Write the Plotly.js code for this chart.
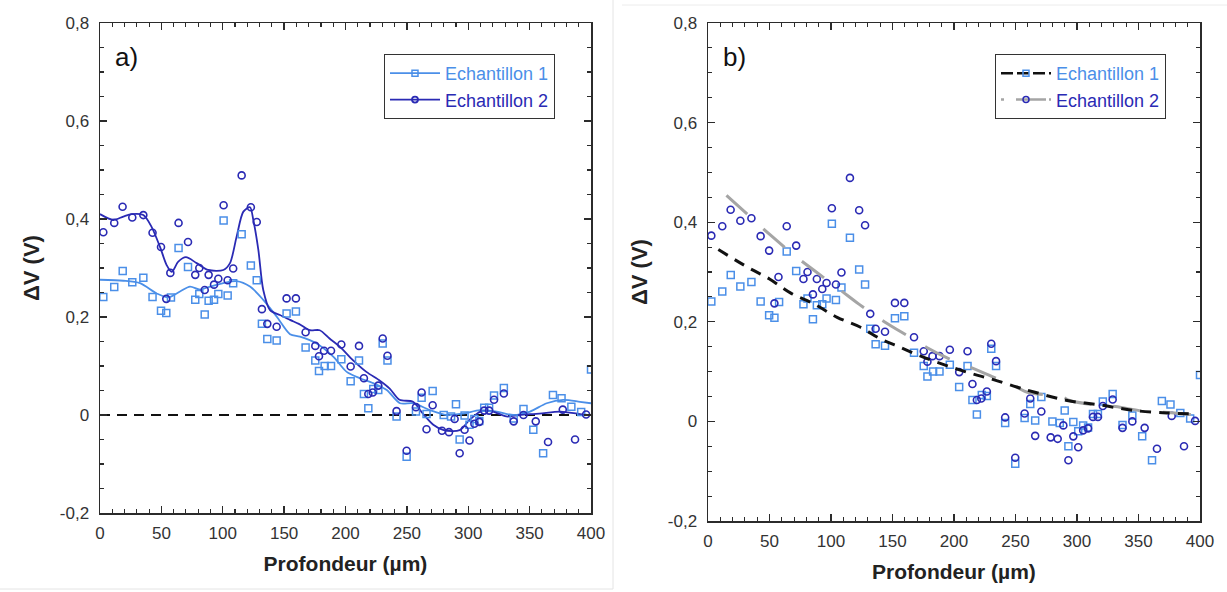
<!DOCTYPE html>
<html>
<head>
<meta charset="utf-8">
<script src="https://cdn.plot.ly/plotly-3.0.1.min.js"></script>
<style>html,body{margin:0;padding:0;background:#fff;}#chart{width:1227px;height:592px;}</style>
</head>
<body>
<div id="chart"></div>
<script>
// Echantillon 1 (squares)
const depth1 = [2.7,11.6,18.5,26.3,35.3,42.8,49.7,54,57.8,64,71.7,77.6,80.9,85.3,88.5,92.9,96.4,100.7,104,108.5,115.4,122.9,127.7,131.9,136.3,143.9,152,159.6,167.5,175.4,178.4,183,188.2,196.6,204.2,211,215,218.6,222.6,226.7,230.3,234.2,241.6,249.8,257.4,262,266,271,280,286,290,293,297,301,305,309,313,317,321,329,337,345,353,361,369,376,384,392,400];
const ech1 = [0.241,0.261,0.294,0.271,0.280,0.241,0.213,0.208,0.240,0.341,0.302,0.235,0.247,0.205,0.233,0.235,0.247,0.397,0.244,0.269,0.369,0.305,0.275,0.186,0.155,0.152,0.207,0.211,0.138,0.111,0.090,0.100,0.100,0.114,0.069,0.111,0.043,0.014,0.053,0.051,0.146,0.111,-0.003,-0.085,0.007,0.035,0.002,0.049,0.000,-0.003,0.022,-0.050,-0.001,-0.020,-0.008,-0.012,0.015,0.015,0.040,0.055,-0.007,0.012,-0.030,-0.078,0.041,0.034,0.017,0.006,0.093];
// Echantillon 2 (circles)
const depth2 = [2.7,11.6,18.4,26.3,35.3,42.8,49.7,54,57.3,64,71.7,77.6,80.9,85.3,88.5,92.9,96.4,100.7,104,108.5,115.4,122.9,127.7,131.9,136.3,143.9,152,159.6,167.5,175.4,178.4,182.5,188.2,196.6,204.2,211,215,218.6,222.2,226.7,230.3,234.2,241.6,249.8,257.4,262,266,271,278.6,284.3,288.9,293,297,301,305,309,313,317,321,329,337,345,355,365,377,387,396];
const ech2 = [0.373,0.392,0.425,0.403,0.408,0.372,0.343,0.237,0.290,0.392,0.353,0.286,0.300,0.255,0.286,0.266,0.278,0.428,0.275,0.299,0.489,0.424,0.394,0.216,0.186,0.180,0.238,0.238,0.169,0.141,0.120,0.131,0.131,0.144,0.099,0.141,0.075,0.043,0.046,0.060,0.156,0.121,0.008,-0.073,0.016,0.046,-0.029,0.020,-0.032,-0.035,-0.008,-0.078,-0.030,-0.052,-0.018,-0.014,0.009,0.009,0.031,0.044,-0.013,0.000,-0.013,-0.055,0.011,-0.050,0.001];
// Smoothed curves (panel a)
const smoothDepth1 = [0,19,32.6,46.2,55.6,65.2,73.3,81.5,89.6,100.5,111.3,122.2,133,143.9,154.8,162.9,176.5,190,201,211.8,222.6,233.6,244.4,255.2,268.8,282.4,296,309.6,323.2,336.7,350.3,363.9,377.4,391,400];
const smooth1 = [0.276,0.274,0.269,0.248,0.240,0.252,0.262,0.256,0.262,0.269,0.273,0.262,0.235,0.201,0.165,0.160,0.146,0.119,0.088,0.075,0.065,0.051,0.024,0.024,0.010,0.000,0.003,0.010,0.007,0.000,0.007,0.024,0.031,0.027,0.024];
const smoothDepth2 = [0,10.9,19,25.8,35.3,42,48.9,54.3,58.4,63.8,70,78.7,88.2,100.5,105.9,111.3,116.8,122.2,124.9,129,133,138.5,146.6,154.8,162,171,179,187,195.5,206,217,228,236,244,255,263,271.5,280,293,301,310,320,331,342,358,375,391,400];
const smooth2 = [0.410,0.398,0.405,0.410,0.408,0.384,0.343,0.306,0.292,0.313,0.322,0.310,0.296,0.296,0.310,0.364,0.415,0.424,0.398,0.337,0.255,0.214,0.204,0.194,0.186,0.173,0.173,0.156,0.139,0.112,0.088,0.070,0.054,0.031,0.027,0.003,-0.020,-0.031,-0.031,-0.010,0.007,0.007,-0.003,0.000,0.003,0.007,0.002,0.000];
// Fitted curves (panel b)
const fitDepth1 = [8.4,34,50,67,86,105,124,140,156,175,194,213,232,251,265,292,319,346,373,393];
const fit1 = [0.345,0.307,0.286,0.258,0.236,0.209,0.189,0.166,0.149,0.129,0.112,0.097,0.084,0.069,0.059,0.042,0.033,0.022,0.017,0.015];
const fitDepth2 = [15,31.5,50.4,72,88,108,123,144,157.5,179,194,216,231,251,259,288,294,319,331,358,366,393];
const fit2 = [0.454,0.417,0.375,0.330,0.300,0.263,0.235,0.199,0.179,0.147,0.128,0.106,0.090,0.069,0.059,0.049,0.042,0.032,0.030,0.019,0.019,0.014];
const zeroLineX = [0,400];
const zeroLineY = [0,0];
const yTickVals = [-0.2,0,0.2,0.4,0.6,0.8];
const yTickText = ['-0,2','0','0,2','0,4','0,6','0,8'];
const xTickVals = [0,50,100,150,200,250,300,350,400];
const xTickText = ['0','50','100','150','200','250','300','350','400'];
const seriesNames = ['Echantillon 1','Echantillon 2'];

const LIGHT = '#4b8fe8';
const DARK = '#2a2ab4';
const GRAY = '#a5a5a5';
const FONT = 'Liberation Sans, Arial, sans-serif';

const mk1 = {symbol:'square-open', size:7, color:LIGHT, line:{width:1.5, color:LIGHT}};
const mk2 = {symbol:'circle-open', size:7, color:DARK, line:{width:1.6, color:DARK}};

const traces = [
  // panel a
  {x:zeroLineX, y:zeroLineY, xaxis:'x', yaxis:'y', mode:'lines', line:{color:'#111', width:2.2, dash:'10px,7px'}, showlegend:false, hoverinfo:'skip'},
  {x:smoothDepth1, y:smooth1, xaxis:'x', yaxis:'y', mode:'lines', line:{color:LIGHT, width:1.8, shape:'spline', smoothing:0.8}, showlegend:false},
  {x:smoothDepth2, y:smooth2, xaxis:'x', yaxis:'y', mode:'lines', line:{color:DARK, width:1.8, shape:'spline', smoothing:0.8}, showlegend:false},
  {x:depth1, y:ech1, xaxis:'x', yaxis:'y', mode:'markers', marker:mk1, showlegend:false},
  {x:depth2, y:ech2, xaxis:'x', yaxis:'y', mode:'markers', marker:mk2, showlegend:false},
  {x:[null], y:[null], xaxis:'x', yaxis:'y', mode:'lines+markers', name:'<span style="color:'+LIGHT+'">'+seriesNames[0]+'</span>', line:{color:LIGHT, width:1.8}, marker:{symbol:'square-open', size:6, color:LIGHT, line:{width:1.5,color:LIGHT}}, legend:'legend'},
  {x:[null], y:[null], xaxis:'x', yaxis:'y', mode:'lines+markers', name:'<span style="color:'+DARK+'">'+seriesNames[1]+'</span>', line:{color:DARK, width:1.8}, marker:{symbol:'circle-open', size:6, color:DARK, line:{width:1.8,color:DARK}}, legend:'legend'},
  // panel b
  {x:depth1, y:ech1, xaxis:'x2', yaxis:'y2', mode:'markers', marker:mk1, showlegend:false},
  {x:depth2, y:ech2, xaxis:'x2', yaxis:'y2', mode:'markers', marker:mk2, showlegend:false},
  {x:fitDepth2, y:fit2, xaxis:'x2', yaxis:'y2', mode:'lines', line:{color:GRAY, width:3, dash:'28px,22px', shape:'spline'}, showlegend:false},
  {x:fitDepth1, y:fit1, xaxis:'x2', yaxis:'y2', mode:'lines', line:{color:'#111', width:3, dash:'11px,8px', shape:'spline'}, showlegend:false},
  {x:[null], y:[null], xaxis:'x2', yaxis:'y2', mode:'lines+markers', name:'<span style="color:'+LIGHT+'">'+seriesNames[0]+'</span>', line:{color:'#111', width:2.5, dash:'12px,4px'}, marker:{symbol:'square-open', size:6, color:LIGHT, line:{width:1.5,color:LIGHT}}, legend:'legend2'},
  {x:[null], y:[null], xaxis:'x2', yaxis:'y2', mode:'lines+markers', name:'<span style="color:'+DARK+'">'+seriesNames[1]+'</span>', line:{color:GRAY, width:2.5, dash:'3px,12px,30px'}, marker:{symbol:'circle-open', size:6, color:DARK, line:{width:1.5,color:DARK}}, legend:'legend2'}
];

function xax(domain, anchor){
  return {domain:domain, anchor:anchor, range:[0,400], autorange:false, showgrid:false, zeroline:false,
    showline:true, linecolor:'#2b2b2b', linewidth:1.5, mirror:'ticks',
    ticks:'inside', ticklen:7, tickwidth:1.3, tickcolor:'#2b2b2b',
    tickvals:xTickVals, ticktext:xTickText, ticklabelstandoff:4,
    minor:{dtick:10, tick0:0, ticks:'inside', ticklen:4, tickwidth:1.1, tickcolor:'#2b2b2b'},
    tickfont:{family:FONT, size:17, color:'#333'},
    title:{text:'<b>Profondeur (µm)</b>', font:{family:FONT, size:21, color:'#222'}, standoff:14}};
}
function yax(domain, anchor){
  return {domain:domain, anchor:anchor, range:[-0.2,0.8], autorange:false, showgrid:false, zeroline:false,
    showline:true, linecolor:'#2b2b2b', linewidth:1.5, mirror:'ticks',
    ticks:'inside', ticklen:7, tickwidth:1.3, tickcolor:'#2b2b2b',
    tickvals:yTickVals, ticktext:yTickText, ticklabelstandoff:6,
    minor:{dtick:0.05, tick0:0, ticks:'inside', ticklen:4, tickwidth:1.1, tickcolor:'#2b2b2b'},
    tickfont:{family:FONT, size:17, color:'#333'},
    title:{text:'<b>ΔV (V)</b>', font:{family:FONT, size:22, color:'#222'}, standoff:14}};
}

const W = 1227, H = 592;
const layout = {
  width:W, height:H, margin:{l:0,r:0,t:0,b:0}, paper_bgcolor:'#fff', plot_bgcolor:'#fff',
  font:{family:FONT, color:'#333'},
  xaxis: xax([100/W, 591/W], 'y'),
  yaxis: yax([1-513/H, 1-23/H], 'x'),
  xaxis2: xax([708/W, 1200/W], 'y2'),
  yaxis2: yax([1-521/H, 1-23/H], 'x2'),
  legend:{x:384/W, y:1-54/H, xanchor:'left', yanchor:'top', bgcolor:'#fff', bordercolor:'#333', borderwidth:1,
    font:{family:FONT, size:18}, itemwidth:50, tracegroupgap:0},
  legend2:{x:995/W, y:1-54/H, xanchor:'left', yanchor:'top', bgcolor:'#fff', bordercolor:'#333', borderwidth:1,
    font:{family:FONT, size:18}, itemwidth:50, tracegroupgap:0},
  annotations:[
    {text:'a)', xref:'paper', yref:'paper', x:113/W, y:1-57/H, xanchor:'left', yanchor:'middle', showarrow:false, font:{family:FONT, size:26, color:'#111'}},
    {text:'b)', xref:'paper', yref:'paper', x:721/W, y:1-57/H, xanchor:'left', yanchor:'middle', showarrow:false, font:{family:FONT, size:26, color:'#111'}}
  ],
  shapes:[
    {type:'line', xref:'paper', yref:'paper', x0:613/W, x1:613/W, y0:1-589/H, y1:1, line:{color:'#e4e4e4', width:1}},
    {type:'line', xref:'paper', yref:'paper', x0:0, x1:613/W, y0:1-589/H, y1:1-589/H, line:{color:'#e4e4e4', width:1}},
    {type:'line', xref:'paper', yref:'paper', x0:622/W, x1:1, y0:1-5/H, y1:1-5/H, line:{color:'#ececec', width:1}}
  ]
};

Plotly.newPlot('chart', traces, layout, {displayModeBar:false, staticPlot:true});
</script>
</body>
</html>
